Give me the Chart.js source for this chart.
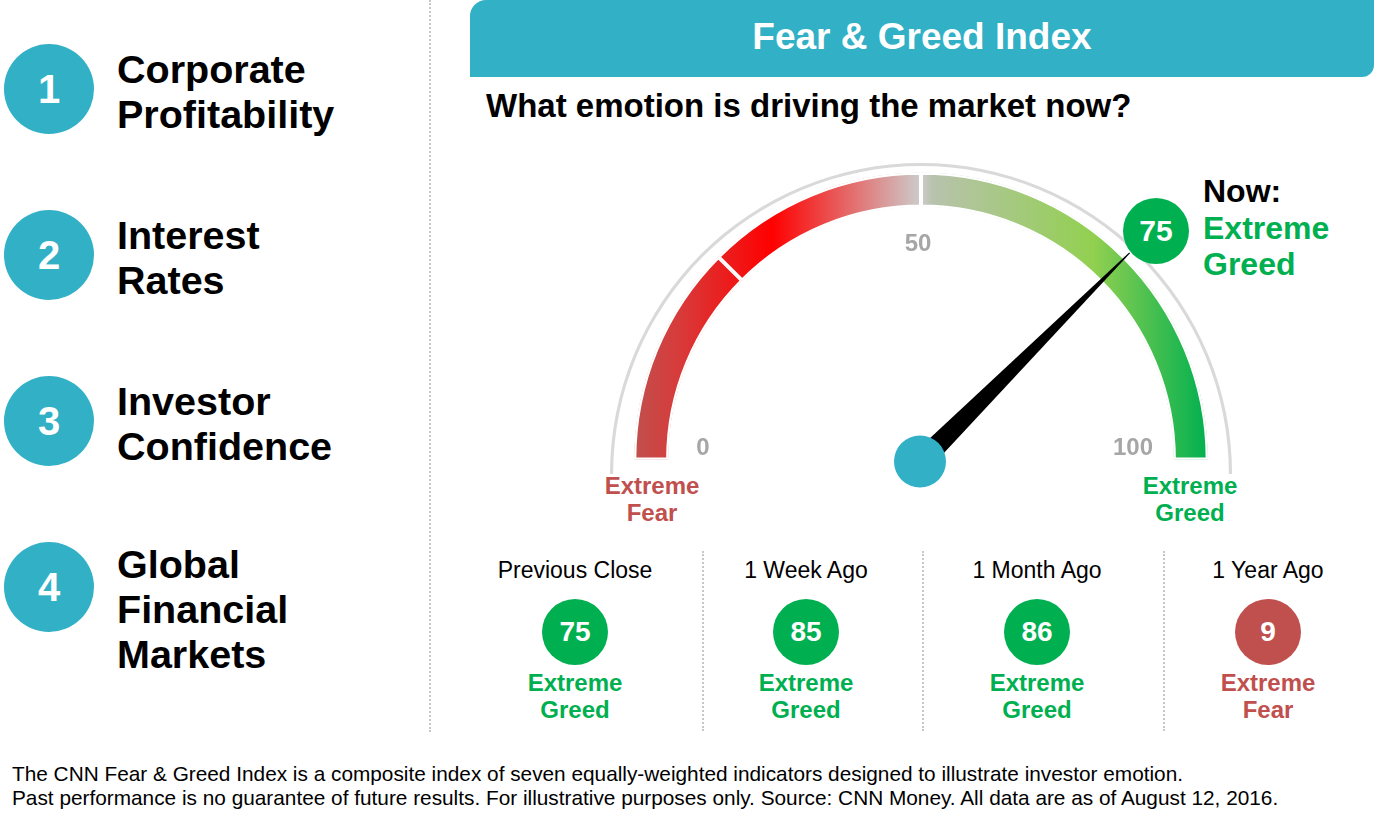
<!DOCTYPE html>
<html>
<head>
<meta charset="utf-8">
<script src="https://cdn.jsdelivr.net/npm/chart.js@4/dist/chart.umd.min.js"></script>
<style>
  body { margin: 0; background: #fff; font-family: "Liberation Sans", Arial, sans-serif; }
  #page { position: relative; width: 1374px; height: 821px; overflow: hidden; }
  .abs { position: absolute; white-space: nowrap; }
  .badge { position: absolute; border-radius: 50%; color: #fff; font-weight: bold; text-align: center; }
  .vdots { position: absolute; border-left: 2px dotted #c8c8c8; width: 0; }
  canvas { position: absolute; }
</style>
</head>
<body>
<div id="page">
  <div class="vdots" style="left:429px; top:0; height:732px;"></div>
  <div id="factors"></div>

  <div class="abs" style="left:470px; top:0; width:904px; height:77px; background:#31b0c6; border-radius:16px 0 12px 0;"></div>
  <div class="abs" style="left:470px; top:14px; width:904px; text-align:center; color:#fff; font-weight:bold; font-size:37px; line-height:46px;">Fear &amp; Greed Index</div>
  <div class="abs" style="left:486px; top:85px; font-weight:bold; font-size:33px; line-height:42px; color:#000;">What emotion is driving the market now?</div>

  <canvas id="rim" width="660" height="360" style="left:600px; top:150px; z-index:1;"></canvas>
  <canvas id="gauge" width="660" height="360" style="left:600px; top:150px; z-index:2;"></canvas>

  <div class="badge" id="nowBadge" style="left:1123px; top:198px; width:66px; height:66px; line-height:66px; font-size:30px; background:#00b050; z-index:3;"></div>
  <div class="abs" style="left:1203px; top:172px; font-weight:bold; font-size:32px; line-height:38px; color:#000;">Now:</div>
  <div class="abs" id="nowRating" style="left:1203px; top:210px; font-weight:bold; font-size:32px; line-height:36px; color:#00b050; white-space:normal; width:170px;"></div>

  <div class="abs" id="endLow" style="left:582px; top:472px; width:140px; text-align:center; font-weight:bold; font-size:24px; line-height:27px; color:#c0504d; white-space:normal;"></div>
  <div class="abs" id="endHigh" style="left:1120px; top:472px; width:140px; text-align:center; font-weight:bold; font-size:24px; line-height:27px; color:#00b050; white-space:normal;"></div>

  <div id="history"></div>

  <div class="abs" style="left:12px; top:762px; font-size:20.8px; line-height:24px; color:#000;">
    The CNN Fear &amp; Greed Index is a composite index of seven equally-weighted indicators designed to illustrate investor emotion.<br>
    Past performance is no guarantee of future results. For illustrative purposes only. Source: CNN Money. All data are as of August 12, 2016.
  </div>
</div>

<script>
// ---- data ----
const factorLines = [
    ['Corporate', 'Profitability'],
    ['Interest', 'Rates'],
    ['Investor', 'Confidence'],
    ['Global', 'Financial', 'Markets']
];
const gaugeSegments = [25, 25, 50];
const gaugeTicks = [0, 50, 100];
const gaugeEndLabels = ['Extreme Fear', 'Extreme Greed'];
const nowValue = 75;
const nowRating = 'Extreme Greed';
const historyLabels = ['Previous Close', '1 Week Ago', '1 Month Ago', '1 Year Ago'];
const historyValues = [75, 85, 86, 9];
const historyRatings = ['Extreme Greed', 'Extreme Greed', 'Extreme Greed', 'Extreme Fear'];

const TEAL = '#31b0c6';
const GREED = '#00b050';
const FEAR = '#c0504d';
const ratingColor = r => r.indexOf('Fear') >= 0 ? FEAR : GREED;
const twoLines = s => s.replace(' ', '<br>');

// ---- left list ----
const factorsEl = document.getElementById('factors');
factorLines.forEach((lines, i) => {
    const cy = 89 + 166 * i;
    const circle = document.createElement('div');
    circle.className = 'badge';
    circle.style.cssText = `left:4px; top:${cy - 45}px; width:90px; height:90px; line-height:90px; font-size:40px; background:${TEAL};`;
    circle.textContent = i + 1;
    factorsEl.appendChild(circle);

    const text = document.createElement('div');
    text.className = 'abs';
    text.style.cssText = `left:117px; top:${47 + 166 * i - (i === 3 ? 3 : 0)}px; font-weight:bold; font-size:39.5px; line-height:45px; color:#000;`;
    text.innerHTML = lines.join('<br>');
    factorsEl.appendChild(text);
});

// ---- labels around the gauge ----
document.getElementById('nowBadge').textContent = nowValue;
document.getElementById('nowRating').innerHTML = twoLines(nowRating);
document.getElementById('endLow').innerHTML = twoLines(gaugeEndLabels[0]);
document.getElementById('endHigh').innerHTML = twoLines(gaugeEndLabels[1]);

// ---- history row ----
const historyEl = document.getElementById('history');
[702, 922, 1163].forEach(x => {
    const d = document.createElement('div');
    d.className = 'vdots';
    d.style.cssText = `left:${x}px; top:551px; height:180px;`;
    historyEl.appendChild(d);
});
historyLabels.forEach((label, i) => {
    const cx = 575 + 231 * i;
    const color = ratingColor(historyRatings[i]);
    historyEl.insertAdjacentHTML('beforeend', `
        <div class="abs" style="left:${cx - 110}px; top:556px; width:220px; text-align:center; font-size:23px; line-height:28px; color:#000;">${label}</div>
        <div class="badge" style="left:${cx - 33}px; top:599px; width:66px; height:66px; line-height:66px; font-size:28px; background:${color};">${historyValues[i]}</div>
        <div class="abs" style="left:${cx - 100}px; top:669px; width:200px; text-align:center; font-weight:bold; font-size:24px; line-height:27px; color:${color};">${twoLines(historyRatings[i])}</div>
    `);
});

// ---- gauge ----
const gaugePlugin = {
    id: 'gaugeExtras',
    afterDatasetsDraw(chart) {
        const ctx = chart.ctx;
        const arcs = chart.getDatasetMeta(0).data;
        const first = arcs[0], last = arcs[arcs.length - 1];
        const cx = first.x, cy = first.y;
        const start = first.startAngle, end = last.endAngle;
        const total = gaugeSegments.reduce((a, b) => a + b, 0);
        const angleOf = v => start + (v / total) * (end - start);

        // tick labels
        ctx.save();
        ctx.font = 'bold 24px "Liberation Sans", Arial, sans-serif';
        ctx.fillStyle = '#a6a6a6';
        ctx.textAlign = 'center';
        ctx.textBaseline = 'middle';
        gaugeTicks.forEach(t => {
            const a = angleOf(t);
            const r = 215;
            ctx.fillText(String(t), cx - 3 + r * Math.cos(a), cy + r * Math.sin(a) - 11 * Math.abs(Math.cos(a)));
        });
        ctx.restore();

        // needle
        const a = angleOf(nowValue);
        const len = first.outerRadius + 8;
        const half = 11;
        ctx.save();
        ctx.translate(cx, cy + 2);
        ctx.rotate(a);
        ctx.beginPath();
        ctx.moveTo(0, -half);
        ctx.lineTo(len, -0.6);
        ctx.lineTo(len, 0.6);
        ctx.lineTo(0, half);
        ctx.closePath();
        ctx.fillStyle = '#000';
        ctx.fill();
        ctx.restore();

        // hub
        ctx.save();
        ctx.beginPath();
        ctx.arc(cx - 1, cy + 2, 26, 0, Math.PI * 2);
        ctx.fillStyle = TEAL;
        ctx.fill();
        ctx.restore();
    }
};

function bandGradient(c) {
    const area = c.chart.chartArea;
    if (!area) return '#cccccc';
    const g = c.chart.ctx.createLinearGradient(area.left, 0, area.right, 0);
    g.addColorStop(0, '#c0504d');
    g.addColorStop(0.08, '#d83a3a');
    g.addColorStop(0.24, '#ff0000');
    g.addColorStop(0.5, '#cccccc');
    g.addColorStop(0.52, '#b8c2ad');
    g.addColorStop(0.8, '#92d050');
    g.addColorStop(1, '#00b050');
    return g;
}

new Chart(document.getElementById('gauge'), {
    type: 'doughnut',
    data: {
        labels: ['0-25', '25-50', '50-100'],
        datasets: [{
            data: gaugeSegments,
            backgroundColor: bandGradient,
            borderColor: '#ffffff',
            borderWidth: 2,
            hoverBorderWidth: 2,
            borderAlign: 'inner',
            offset: 0,
            hoverOffset: 0
        }]
    },
    options: {
        responsive: false,
        animation: false,
        events: [],
        rotation: -90,
        circumference: 180,
        cutout: '88%',
        layout: { padding: { left: 34, right: 52, top: 22, bottom: 50 } },
        plugins: { legend: { display: false }, tooltip: { enabled: false } }
    },
    plugins: [gaugePlugin]
});

// thin grey rim behind the gauge
new Chart(document.getElementById('rim'), {
    type: 'doughnut',
    data: {
        labels: ['rim'],
        datasets: [{ data: [100], backgroundColor: '#d9d9d9', borderWidth: 0, offset: 0, hoverOffset: 0 }]
    },
    options: {
        responsive: false,
        animation: false,
        events: [],
        rotation: -90,
        circumference: 180,
        cutout: '99%',
        layout: { padding: { left: 10, right: 28, top: 13, bottom: 36 } },
        plugins: { legend: { display: false }, tooltip: { enabled: false } }
    }
});
</script>
</body>
</html>
